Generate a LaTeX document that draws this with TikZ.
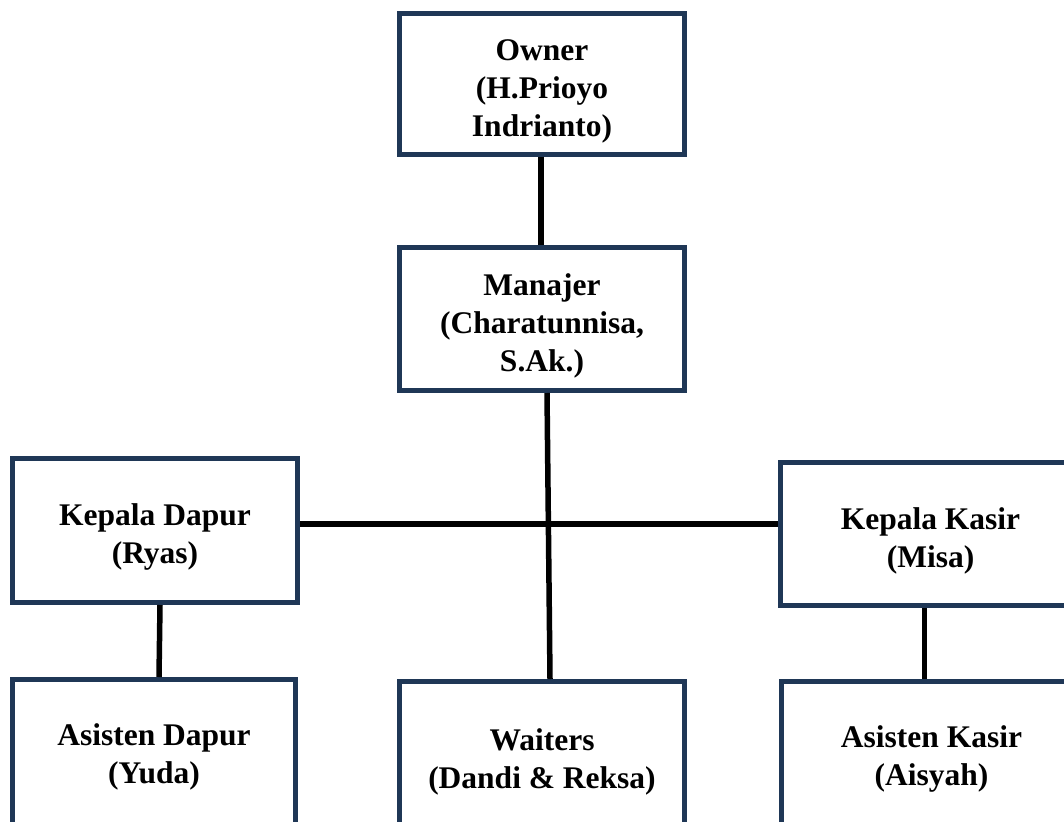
\documentclass[tikz,border=0pt]{standalone}
\usepackage{fontspec}
\setmainfont{Liberation Serif}
\usepackage{xcolor}
\usepackage{tikz}
\definecolor{boxnavy}{RGB}{31,55,86}
\newcommand{\toppad}[1]{\rule{0pt}{#1}}

\begin{document}
\begin{tikzpicture}[x=1pt, y=-1pt,
  box/.style={draw=boxnavy, line width=5pt, fill=white, align=center,
    inner sep=0pt, font=\fontsize{31.5}{38}\selectfont\bfseries},
  link/.style={draw=black, line width=5.5pt}]
\useasboundingbox (0,0) rectangle (1064,821);
\clip (0,0) rectangle (1064,821);
% top of the tree
\node[box, minimum width=285pt, minimum height=141pt] (owner) at (542,84) {\toppad{36pt}Owner\\(H.Prioyo\\Indrianto)};
\node[box, minimum width=285pt, minimum height=143pt] (manajer) at (542,319) {\toppad{35pt}Manajer\\(Charatunnisa,\\S.Ak.)};
% middle row
\node[box, minimum width=285pt, minimum height=144pt] (kdapur) at (155,530.5) {\toppad{35pt}Kepala Dapur\\(Ryas)};
\node[box, minimum width=300pt, minimum height=143pt] (kkasir) at (930.5,534) {\toppad{35pt}Kepala Kasir\\(Misa)};
% bottom row
\node[box, minimum width=283pt, minimum height=150pt] (adapur) at (154,754.5) {\toppad{27pt}Asisten Dapur\\(Yuda)};
\node[box, minimum width=285pt, minimum height=155pt] (waiters) at (542,759) {\toppad{28pt}Waiters\\(Dandi \& Reksa)};
\node[box, minimum width=300pt, minimum height=150pt] (akasir) at (931.5,756.5) {\toppad{27pt}Asisten Kasir\\(Aisyah)};
\coordinate (hline) at (0,524);
% connectors
\draw[link] ([xshift=-1pt]owner.south) -- ([xshift=-1pt]manajer.north);
\draw[link] ([xshift=5pt]manajer.south) -- ([xshift=8pt]waiters.north);
\draw[link] (kdapur.east |- hline) -- (kkasir.west |- hline);
\draw[link] ([xshift=5pt]kdapur.south) -- ([xshift=5pt]adapur.north);
\draw[link] ([xshift=-6pt]kkasir.south) -- ([xshift=-7pt]akasir.north);
\end{tikzpicture}
\end{document}
